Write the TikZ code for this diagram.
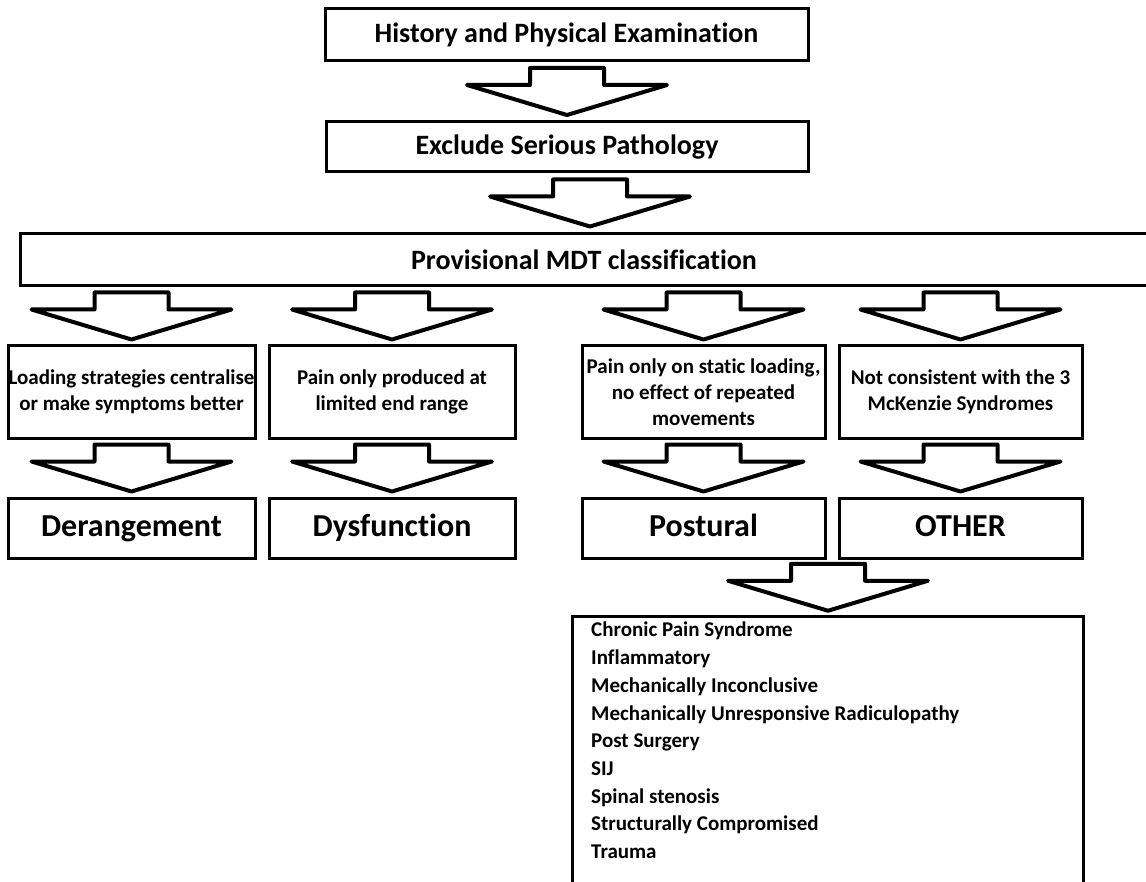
\documentclass[tikz,border=0pt]{standalone}
\usepackage{fontspec}
\setmainfont{Carlito}[Ligatures=NoCommon]
\usetikzlibrary{calc}

\tikzset{
  box/.style={draw=black, line width=3pt, fill=white, inner sep=0pt,
    align=center, font=\bfseries},
  fatarrow/.style={draw=black, line width=4pt, line join=round, fill=white},
  titlefont/.style={font=\bfseries\fontsize{28}{32}\selectfont},
  descfont/.style={font=\bfseries\fontsize{21}{26}\selectfont},
  bigfont/.style={font=\bfseries\fontsize{32}{36}\selectfont,
    text height=22pt, text depth=6pt},
  listfont/.style={font=\bfseries\fontsize{21}{27.7}\selectfont},
}

% block arrow centred in the gap between two boxes, aligned on the lower one
\newcommand{\blockarrow}[2]{%
  \coordinate (gap) at ($(#1.south)!0.5!(#2.north)$);
  \coordinate (ac) at (gap -| #2.north);
  \draw[fatarrow, shift={(ac)}]
    (-37,-23.5) -- (37,-23.5) -- (37,-6.5) -- (100,-6.5) -- (0,23.5)
    -- (-100,-6.5) -- (-37,-6.5) -- cycle;
}

\begin{document}
\begin{tikzpicture}[x=1pt, y=-1pt]
\useasboundingbox (0,0) rectangle (1146,882);
\clip (0,0) rectangle (1146,882);

% top of the flow
\node[box, titlefont, minimum width=483, minimum height=52] (hist) at (566.5,35)
  {History and Physical Examination};
\node[box, titlefont, minimum width=482, minimum height=50] (excl) at (567,147)
  {Exclude Serious Pathology};
\node[box, titlefont, minimum width=1140, minimum height=52] (prov) at (590,260)
  {};
\node[titlefont] (provtxt) at (584,260) {Provisional MDT classification};

% criteria
\node[box, descfont, minimum width=247, minimum height=92] (c1) at (131.5,392)
  {Loading strategies centralise\\or make symptoms better};
\node[box, descfont, minimum width=246, minimum height=92] (c2) at (392,392)
  {Pain only produced at\\limited end range};
\node[box, descfont, minimum width=243, minimum height=92] (c3) at (703.5,392)
  {Pain only on static loading,\\no effect of repeated\\movements};
\node[box, descfont, minimum width=243, minimum height=92] (c4) at (960.5,392)
  {Not consistent with the 3\\McKenzie Syndromes};

% syndromes
\node[box, bigfont, minimum width=247, minimum height=60] (s1) at (131.5,528)
  {Derangement};
\node[box, bigfont, minimum width=246, minimum height=60] (s2) at (392,528)
  {Dysfunction};
\node[box, bigfont, minimum width=243, minimum height=60] (s3) at (703.5,528)
  {Postural};
\node[box, bigfont, minimum width=243, minimum height=60] (s4) at (960.5,528)
  {OTHER};

% list of other classifications
\node[box, minimum width=511, minimum height=300, anchor=north west] (other)
  at (571,615) {};
\node[listfont, anchor=north west, align=left, inner sep=0pt] (otherlist)
  at (591,622) {Chronic Pain Syndrome\\Inflammatory\\Mechanically Inconclusive\\
  Mechanically Unresponsive Radiculopathy\\Post Surgery\\SIJ\\Spinal stenosis\\
  Structurally Compromised\\Trauma};

% connectors
\blockarrow{hist}{excl}
\blockarrow{excl}{prov}
\blockarrow{prov}{c1}
\blockarrow{prov}{c2}
\blockarrow{prov}{c3}
\blockarrow{prov}{c4}
\blockarrow{c1}{s1}
\blockarrow{c2}{s2}
\blockarrow{c3}{s3}
\blockarrow{c4}{s4}
\blockarrow{s4}{other}
\end{tikzpicture}
\end{document}
